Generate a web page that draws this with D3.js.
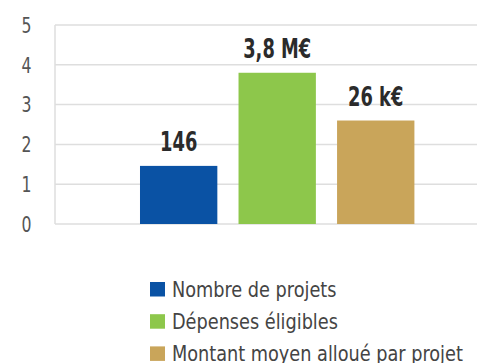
<!DOCTYPE html>
<html>
<head>
<meta charset="utf-8">
<script src="https://cdn.jsdelivr.net/npm/d3@7"></script>
<style>
  html, body { margin: 0; padding: 0; background: #fff; }
  svg { display: block; }
  .narrow { font-family: "Liberation Sans Narrow", "DejaVu Sans Condensed", "Arial Narrow", sans-serif; font-stretch: condensed; }
</style>
</head>
<body>
<svg id="chart" width="477" height="363"></svg>
<script>
// Series shown as bars (values on a 0–5 scale) and their printed labels
const series = ["Nombre de projets", "Dépenses éligibles", "Montant moyen alloué par projet"];
const values = [1.46, 3.8, 2.6];
const valueLabels = ["146", "3,8 M€", "26 k€"];
const colors = ["#0a52a4", "#8dc74b", "#c9a55a"];
const yTicks = [0, 1, 2, 3, 4, 5];

const svg = d3.select("#chart");
const plot = { left: 55, right: 477, top: 25, bottom: 224 };

const y = d3.scaleLinear().domain([0, 5]).range([plot.bottom, plot.top]);
const x = d3.scaleBand()
  .domain(series)
  .range([129.4, 425])
  .paddingInner(0.215)
  .paddingOuter(0.1075);

// Squeeze a text selection horizontally so the widest item fits targetWidth
function condense(sel, targetWidth) {
  let widest = 0;
  sel.each(function () { widest = Math.max(widest, this.getComputedTextLength()); });
  return widest > 0 ? Math.min(1, targetWidth / widest) : 1;
}

// Gridlines
svg.append("g")
  .selectAll("line")
  .data(yTicks)
  .join("line")
  .attr("x1", plot.left)
  .attr("x2", plot.right)
  .attr("y1", d => y(d))
  .attr("y2", d => y(d))
  .attr("stroke", "#dedede")
  .attr("stroke-width", 1.5);

// Left frame line
svg.append("line")
  .attr("x1", plot.left).attr("x2", plot.left)
  .attr("y1", y(5)).attr("y2", y(0))
  .attr("stroke", "#dedede")
  .attr("stroke-width", 1.5);

// Y axis labels
const yAxis = d3.axisLeft(y).tickValues(yTicks).tickSize(0).tickPadding(0).tickFormat(d3.format("d"));
const yG = svg.append("g")
  .attr("transform", "translate(31.5,0)")
  .call(yAxis);
yG.select(".domain").remove();
const yTxt = yG.selectAll("text")
  .attr("class", "narrow")
  .attr("font-size", 20.5)
  .attr("fill", "#555")
  .attr("x", 0)
  .attr("dy", "0.36em");
const ys = condense(yTxt, 10);
yTxt.attr("transform", `scale(${ys},1)`);

// Bars
svg.append("g")
  .selectAll("rect")
  .data(series)
  .join("rect")
  .attr("x", d => x(d))
  .attr("width", x.bandwidth())
  .attr("y", (d, i) => y(values[i]))
  .attr("height", (d, i) => y(0) - y(values[i]))
  .attr("fill", (d, i) => colors[i]);

// Value labels above bars
const vG = svg.append("g")
  .selectAll("g")
  .data(series)
  .join("g")
  .attr("transform", (d, i) => `translate(${x(d) + x.bandwidth() / 2},${y(values[i]) - 14.5})`);
const vTxt = vG.append("text")
  .attr("class", "narrow")
  .attr("text-anchor", "middle")
  .attr("font-size", 27)
  .attr("font-weight", "bold")
  .attr("fill", "#2b2b2b")
  .text((d, i) => valueLabels[i]);
const vs = condense(vTxt, 68);
vTxt.attr("transform", `scale(${vs},1)`);

// Legend
const legend = svg.append("g").attr("transform", "translate(150,282)");
const rows = legend.selectAll("g")
  .data(series)
  .join("g")
  .attr("transform", (d, i) => `translate(0,${i * 32.2})`);
rows.append("rect")
  .attr("width", 15)
  .attr("height", 14.5)
  .attr("fill", (d, i) => colors[i]);
const lTxt = rows.append("g")
  .attr("transform", "translate(22,14.7)")
  .append("text")
  .attr("class", "narrow")
  .attr("font-size", 20.5)
  .attr("fill", "#444")
  .text(d => d);
const ls = condense(lTxt, 291);
lTxt.attr("transform", `scale(${ls},1)`);
</script>
</body>
</html>
